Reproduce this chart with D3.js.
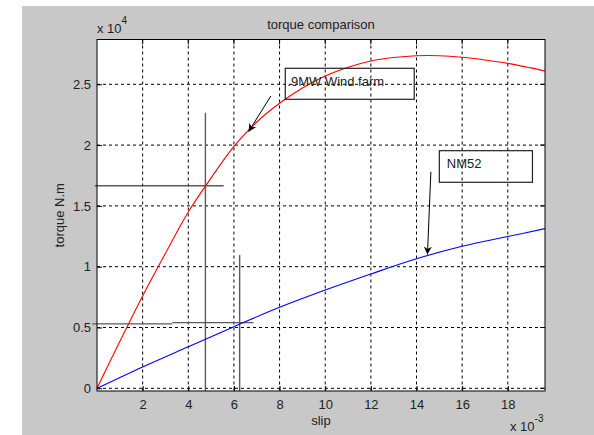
<!DOCTYPE html>
<html>
<head>
<meta charset="utf-8">
<script src="https://cdn.jsdelivr.net/npm/d3@7"></script>
<style>
  body { margin: 0; background: #fff; }
  svg text { font-family: "Liberation Sans", Arial, sans-serif; font-size: 13px; fill: #222; }
</style>
</head>
<body>
<svg id="chart" width="594" height="435"></svg>
<script>
// slip in units of 1e-3, torque in N.m
var redSlip   = [0, 1, 2, 3, 4, 5, 6, 7, 8, 9, 10, 11, 12, 13, 14, 15, 16, 17, 18, 19, 19.63];
var redTorque = [0, 3850, 7600, 11100, 14500, 17300, 19900, 21900, 23440, 24700, 25680, 26400, 26920, 27200, 27350, 27350, 27220, 27000, 26720, 26350, 26090];

var blueSlip   = [0, 2, 4, 6, 8, 10, 12, 14, 16, 18, 19.63];
var blueTorque = [0, 1760, 3420, 5070, 6660, 8080, 9400, 10650, 11680, 12480, 13130];

var xTicks = [2, 4, 6, 8, 10, 12, 14, 16, 18];
var xTickLabels = ["2", "4", "6", "8", "10", "12", "14", "16", "18"];
var yTicks = [0, 5000, 10000, 15000, 20000, 25000];
var yTickLabels = ["0", "0.5", "1", "1.5", "2", "2.5"];

// gray marker lines (slip x1e-3, torque)
var markLines = [
  [4.75, -222, 4.75, 22660],
  [-0.1, 16660, 5.55, 16660],
  [6.25, -222, 6.25, 10960],
  [-0.2, 5300, 3.3, 5300],
  [3.3, 5400, 6.86, 5400]
];

// annotation boxes and arrows
var labels = [".9MW Wind farm", "NM52"];
var labelBoxes = [[8.25, 26316, 13.9, 23766], [15.0, 19540, 19.08, 16941]];
var labelText = [[8.34, 24860], [15.33, 18092]];
var arrows = [[7.62, 24038, 6.64, 21102], [14.63, 17812, 14.48, 11000]];

var svg = d3.select("#chart");
var pLeft = 97, pRight = 545, pTop = 39.5, pBottom = 391;

var x = d3.scaleLinear().domain([0, 19.63]).range([pLeft, pRight]);
var y = d3.scaleLinear().domain([-222, 28684]).range([pBottom, pTop]);

// figure background
svg.append("rect").attr("x", 22).attr("y", 6).attr("width", 572).attr("height", 429).attr("fill", "#c8c8c8");
svg.append("rect").attr("x", pLeft).attr("y", pTop).attr("width", pRight - pLeft).attr("height", pBottom - pTop).attr("fill", "#fff");

// grid
svg.selectAll(".vgrid").data(xTicks).enter().append("line")
  .attr("x1", function(d) { return x(d); }).attr("x2", function(d) { return x(d); })
  .attr("y1", pTop).attr("y2", pBottom)
  .attr("stroke", "#000").attr("stroke-width", 1).attr("stroke-dasharray", "3,3");
svg.selectAll(".hgrid").data(yTicks).enter().append("line")
  .attr("y1", function(d) { return y(d); }).attr("y2", function(d) { return y(d); })
  .attr("x1", pLeft).attr("x2", pRight)
  .attr("stroke", "#000").attr("stroke-width", 1).attr("stroke-dasharray", "3,3");

// axes
var xAxis = d3.axisBottom(x).tickValues(xTicks).tickFormat(function(d, i) { return xTickLabels[i]; })
  .tickSizeInner(-5).tickSizeOuter(0).tickPadding(10);
var yAxis = d3.axisLeft(y).tickValues(yTicks).tickFormat(function(d, i) { return yTickLabels[i]; })
  .tickSizeInner(-5).tickSizeOuter(0).tickPadding(6);

var gx = svg.append("g").attr("transform", "translate(0," + pBottom + ")").call(xAxis);
var gy = svg.append("g").attr("transform", "translate(" + pLeft + ",0)").call(yAxis);
[gx, gy].forEach(function(g) {
  g.select(".domain").remove();
  g.selectAll("line").attr("stroke", "#000");
  g.selectAll("text").style("font-family", "Liberation Sans, Arial, sans-serif").style("font-size", "13px").attr("fill", "#222");
});
gx.selectAll("text").attr("dy", "0.6em");

// top and right ticks
svg.selectAll(".ttick").data(xTicks).enter().append("line")
  .attr("x1", function(d) { return x(d); }).attr("x2", function(d) { return x(d); })
  .attr("y1", pTop).attr("y2", pTop + 5).attr("stroke", "#000");
svg.selectAll(".rtick").data(yTicks).enter().append("line")
  .attr("y1", function(d) { return y(d); }).attr("y2", function(d) { return y(d); })
  .attr("x1", pRight).attr("x2", pRight - 5).attr("stroke", "#000");

// gray marker lines
svg.selectAll(".mark").data(markLines).enter().append("line")
  .attr("x1", function(d) { return x(d[0]); }).attr("y1", function(d) { return y(d[1]); })
  .attr("x2", function(d) { return x(d[2]); }).attr("y2", function(d) { return y(d[3]); })
  .attr("stroke", "#5a5a5a").attr("stroke-width", 1.4);

// curves
var line = d3.line().curve(d3.curveCatmullRom)
  .x(function(d) { return x(d[0]); }).y(function(d) { return y(d[1]); });

svg.append("path").datum(d3.zip(redSlip, redTorque))
  .attr("d", line).attr("fill", "none").attr("stroke", "#ff0000").attr("stroke-width", 1.1);
svg.append("path").datum(d3.zip(blueSlip, blueTorque))
  .attr("d", line).attr("fill", "none").attr("stroke", "#0000ff").attr("stroke-width", 1.1);

// plot box
svg.append("rect").attr("x", pLeft).attr("y", pTop).attr("width", pRight - pLeft).attr("height", pBottom - pTop)
  .attr("fill", "none").attr("stroke", "#000").attr("stroke-width", 1);

// annotation boxes
svg.selectAll(".lbox").data(labelBoxes).enter().append("rect")
  .attr("x", function(d) { return x(d[0]); }).attr("y", function(d) { return y(d[1]); })
  .attr("width", function(d) { return x(d[2]) - x(d[0]); })
  .attr("height", function(d) { return y(d[3]) - y(d[1]); })
  .attr("fill", "none").attr("stroke", "#222").attr("stroke-width", 1.2);
svg.selectAll(".ltext").data(labelText).enter().append("text")
  .attr("x", function(d) { return x(d[0]); }).attr("y", function(d) { return y(d[1]); })
  .text(function(d, i) { return labels[i]; });

// arrows
svg.append("defs").append("marker")
  .attr("id", "head").attr("viewBox", "0 0 10 10").attr("refX", 10).attr("refY", 5)
  .attr("markerWidth", 10).attr("markerHeight", 8).attr("markerUnits", "userSpaceOnUse")
  .attr("orient", "auto")
  .append("path").attr("d", "M0,0 L10,5 L0,10 L3,5 Z").attr("fill", "#000");
svg.selectAll(".arrow").data(arrows).enter().append("line")
  .attr("x1", function(d) { return x(d[0]); }).attr("y1", function(d) { return y(d[1]); })
  .attr("x2", function(d) { return x(d[2]); }).attr("y2", function(d) { return y(d[3]); })
  .attr("stroke", "#000").attr("stroke-width", 1).attr("marker-end", "url(#head)");

// title and labels
svg.append("text").attr("x", (pLeft + pRight) / 2).attr("y", 29).attr("text-anchor", "middle").text("torque comparison");
svg.append("text").attr("x", (pLeft + pRight) / 2).attr("y", 425).attr("text-anchor", "middle").text("slip");
svg.append("text").attr("transform", "translate(64," + ((pTop + pBottom) / 2) + ") rotate(-90)")
  .attr("text-anchor", "middle").text("torque N.m");

var e4 = svg.append("text").attr("x", 97).attr("y", 33);
e4.append("tspan").text("x 10");
e4.append("tspan").attr("dy", -9).style("font-size", "10px").text("4");

var e3 = svg.append("text").attr("x", 510).attr("y", 431);
e3.append("tspan").text("x 10");
e3.append("tspan").attr("dy", -9).style("font-size", "10px").text("-3");
</script>
</body>
</html>
